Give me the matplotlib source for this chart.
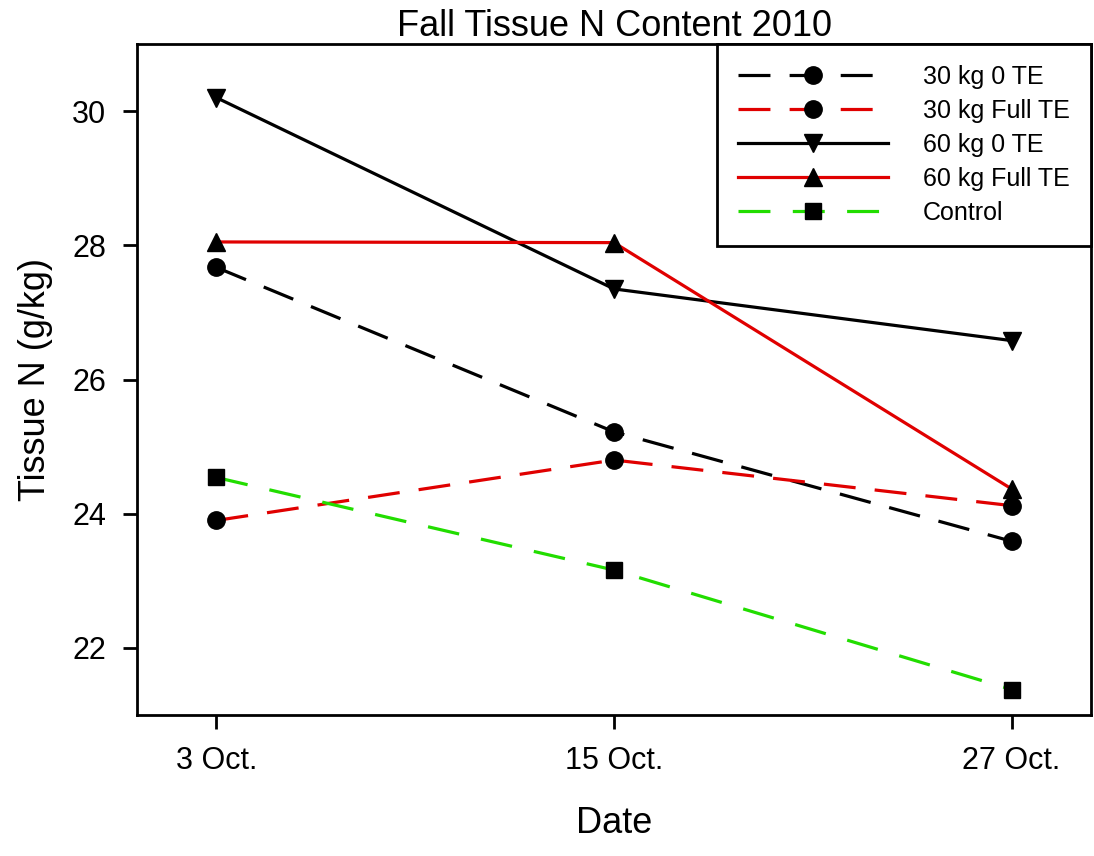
import matplotlib
matplotlib.use("Agg")
import matplotlib.pyplot as plt

dates = [3, 15, 27]
date_labels = ["3 Oct.", "15 Oct.", "27 Oct."]

n30_0te = [27.67, 25.22, 23.59]
n30_full = [23.90, 24.80, 24.12]
n60_0te = [30.20, 27.35, 26.58]
n60_full = [28.05, 28.04, 24.37]
control = [24.54, 23.16, 21.38]

font = "Liberation Sans"

fig = plt.figure(figsize=(10.94, 8.56), dpi=100)
ax = fig.add_axes([0.1252, 0.1647, 0.8721, 0.7839])

lw = 2.3
ax.plot(dates, n30_0te, color="black", ls=(0, (10, 6)), lw=lw, marker="o", ms=12.5,
        mfc="black", mec="black", label="30 kg 0 TE")
ax.plot(dates, n30_full, color="#e00000", ls=(0, (10, 6)), lw=lw, marker="o", ms=12.5,
        mfc="black", mec="black", label="30 kg Full TE")
ax.plot(dates, n60_0te, color="black", ls="-", lw=lw, marker="v", ms=12.5,
        mfc="black", mec="black", label="60 kg 0 TE")
ax.plot(dates, n60_full, color="#e00000", ls="-", lw=lw, marker="^", ms=12.5,
        mfc="black", mec="black", label="60 kg Full TE")
ax.plot(dates, control, color="#22dd00", ls=(0, (10, 7)), lw=lw, marker="s", ms=11.5,
        mfc="black", mec="black", label="Control")

ax.set_xlim(0.6, 29.4)
ax.set_ylim(21, 31)
ax.set_xticks(dates)
ax.set_xticklabels(date_labels)
ax.set_yticks([22, 24, 26, 28, 30])

for s in ax.spines.values():
    s.set_linewidth(2)
ax.tick_params(direction="out", length=10, width=2, pad=12)
for lab in ax.get_xticklabels() + ax.get_yticklabels():
    lab.set_fontfamily(font)
    lab.set_fontsize(22)

ax.set_xlabel("Date", fontsize=26, fontfamily=font, labelpad=22)
ax.set_ylabel("Tissue N (g/kg)", fontsize=26, fontfamily=font, labelpad=14)
ax.set_title("Fall Tissue N Content 2010", fontsize=26, fontfamily=font, pad=4)

leg = ax.legend(loc="upper right", borderaxespad=0, handlelength=6.0,
                handletextpad=1.4, labelspacing=0.4, borderpad=0.85,
                fancybox=False, framealpha=1, prop={"family": font, "size": 18})
leg.get_frame().set_edgecolor("black")
leg.get_frame().set_linewidth(2)

fig.savefig("out.png", dpi=100)
